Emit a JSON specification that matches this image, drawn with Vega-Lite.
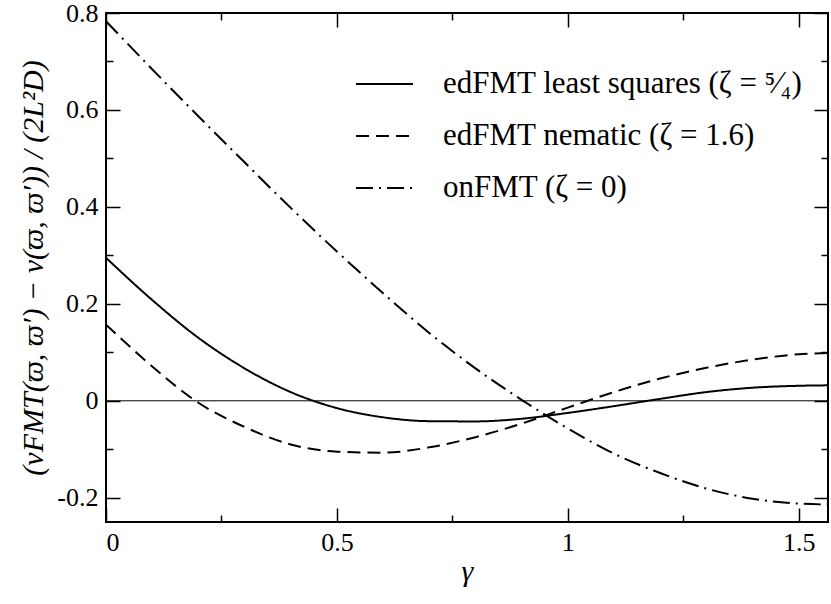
{
  "$schema": "https://vega.github.io/schema/vega-lite/v6.json",
  "autosize": {"type": "fit", "contains": "padding"},
  "width": 831,
  "height": 604,
  "padding": {"left": 18, "top": 0, "right": -4, "bottom": 18},
  "config": {
    "font": "Liberation Serif",
    "view": {"stroke": "black", "strokeWidth": 2}
  },
  "datasets": {
    "curves": [
      {"series": "edFMT least squares (ζ = ⁵⁄₄)", "g": 0, "v": 0.295},
      {"series": "edFMT least squares (ζ = ⁵⁄₄)", "g": 0.1, "v": 0.208},
      {"series": "edFMT least squares (ζ = ⁵⁄₄)", "g": 0.2, "v": 0.130},
      {"series": "edFMT least squares (ζ = ⁵⁄₄)", "g": 0.3, "v": 0.067},
      {"series": "edFMT least squares (ζ = ⁵⁄₄)", "g": 0.4, "v": 0.018},
      {"series": "edFMT least squares (ζ = ⁵⁄₄)", "g": 0.5, "v": -0.015},
      {"series": "edFMT least squares (ζ = ⁵⁄₄)", "g": 0.6, "v": -0.034},
      {"series": "edFMT least squares (ζ = ⁵⁄₄)", "g": 0.7, "v": -0.042},
      {"series": "edFMT least squares (ζ = ⁵⁄₄)", "g": 0.8, "v": -0.0425},
      {"series": "edFMT least squares (ζ = ⁵⁄₄)", "g": 0.9, "v": -0.037},
      {"series": "edFMT least squares (ζ = ⁵⁄₄)", "g": 1.0, "v": -0.025},
      {"series": "edFMT least squares (ζ = ⁵⁄₄)", "g": 1.1, "v": -0.011},
      {"series": "edFMT least squares (ζ = ⁵⁄₄)", "g": 1.2, "v": 0.004},
      {"series": "edFMT least squares (ζ = ⁵⁄₄)", "g": 1.3, "v": 0.018},
      {"series": "edFMT least squares (ζ = ⁵⁄₄)", "g": 1.4, "v": 0.027},
      {"series": "edFMT least squares (ζ = ⁵⁄₄)", "g": 1.5, "v": 0.031},
      {"series": "edFMT least squares (ζ = ⁵⁄₄)", "g": 1.5708, "v": 0.032},
      {"series": "edFMT nematic (ζ = 1.6)", "g": 0, "v": 0.157},
      {"series": "edFMT nematic (ζ = 1.6)", "g": 0.1, "v": 0.071},
      {"series": "edFMT nematic (ζ = 1.6)", "g": 0.2, "v": -0.004},
      {"series": "edFMT nematic (ζ = 1.6)", "g": 0.3, "v": -0.054},
      {"series": "edFMT nematic (ζ = 1.6)", "g": 0.4, "v": -0.090},
      {"series": "edFMT nematic (ζ = 1.6)", "g": 0.5, "v": -0.105},
      {"series": "edFMT nematic (ζ = 1.6)", "g": 0.6, "v": -0.107},
      {"series": "edFMT nematic (ζ = 1.6)", "g": 0.7, "v": -0.096},
      {"series": "edFMT nematic (ζ = 1.6)", "g": 0.8, "v": -0.075},
      {"series": "edFMT nematic (ζ = 1.6)", "g": 0.9, "v": -0.047},
      {"series": "edFMT nematic (ζ = 1.6)", "g": 1.0, "v": -0.014},
      {"series": "edFMT nematic (ζ = 1.6)", "g": 1.1, "v": 0.018},
      {"series": "edFMT nematic (ζ = 1.6)", "g": 1.2, "v": 0.046},
      {"series": "edFMT nematic (ζ = 1.6)", "g": 1.3, "v": 0.068},
      {"series": "edFMT nematic (ζ = 1.6)", "g": 1.4, "v": 0.085},
      {"series": "edFMT nematic (ζ = 1.6)", "g": 1.5, "v": 0.096},
      {"series": "edFMT nematic (ζ = 1.6)", "g": 1.5708, "v": 0.099},
      {"series": "onFMT (ζ = 0)", "g": 0, "v": 0.783},
      {"series": "onFMT (ζ = 0)", "g": 0.1, "v": 0.684},
      {"series": "onFMT (ζ = 0)", "g": 0.2, "v": 0.587},
      {"series": "onFMT (ζ = 0)", "g": 0.3, "v": 0.492},
      {"series": "onFMT (ζ = 0)", "g": 0.4, "v": 0.398},
      {"series": "onFMT (ζ = 0)", "g": 0.5, "v": 0.308},
      {"series": "onFMT (ζ = 0)", "g": 0.6, "v": 0.222},
      {"series": "onFMT (ζ = 0)", "g": 0.7, "v": 0.140},
      {"series": "onFMT (ζ = 0)", "g": 0.8, "v": 0.067},
      {"series": "onFMT (ζ = 0)", "g": 0.9, "v": 0.002},
      {"series": "onFMT (ζ = 0)", "g": 1.0, "v": -0.057},
      {"series": "onFMT (ζ = 0)", "g": 1.1, "v": -0.109},
      {"series": "onFMT (ζ = 0)", "g": 1.2, "v": -0.149},
      {"series": "onFMT (ζ = 0)", "g": 1.3, "v": -0.181},
      {"series": "onFMT (ζ = 0)", "g": 1.4, "v": -0.202},
      {"series": "onFMT (ζ = 0)", "g": 1.5, "v": -0.212},
      {"series": "onFMT (ζ = 0)", "g": 1.5708, "v": -0.214}
    ],
    "zero": [{"v": 0}]
  },
  "resolve": {"axis": {"x": "independent", "y": "independent"}},
  "layer": [
    {
      "data": {"name": "zero"},
      "mark": {"type": "rule", "stroke": "black", "strokeWidth": 1},
      "encoding": {
        "y": {"field": "v", "type": "quantitative", "scale": {"domain": [-0.25, 0.8], "nice": false, "zero": false}, "axis": null}
      }
    },
    {
      "data": {"name": "curves"},
      "mark": {"type": "line", "stroke": "black", "strokeWidth": 2, "interpolate": "monotone", "strokeCap": "butt", "clip": true},
      "encoding": {
        "x": {"field": "g", "type": "quantitative", "scale": {"domain": [0, 1.5635], "nice": false, "zero": false},
          "axis": {"orient": "bottom", "values": [0, 0.5, 1, 1.5], "domain": false, "grid": false, "ticks": true, "tickColor": "black", "tickOpacity": 1, "tickWidth": 1.5, "tickSize": -14, "labelFont": "Liberation Serif", "labelColor": "black", "labelFontSize": 26, "labelPadding": 21, "labelExpr": "replace(format(datum.value, '~g'), '\u2212', '-')", "title": "γ", "titleFont": "Liberation Serif", "titleColor": "black", "titleFontWeight": "normal", "titleFontSize": 30, "titleFontStyle": "italic", "titlePadding": 1}},
        "y": {"field": "v", "type": "quantitative", "scale": {"domain": [-0.25, 0.8], "nice": false, "zero": false},
          "axis": {"orient": "left", "values": [-0.2, 0, 0.2, 0.4, 0.6, 0.8], "domain": false, "grid": false, "ticks": true, "tickColor": "black", "tickOpacity": 1, "tickWidth": 1.5, "tickSize": -14, "labelFont": "Liberation Serif", "labelColor": "black", "labelFontSize": 26, "labelPadding": 22, "labelExpr": "replace(format(datum.value, '~g'), '\u2212', '-')", "title": "(vFMT(ϖ, ϖ′) − v(ϖ, ϖ′)) / (2L²D)", "titleFont": "Liberation Serif", "titleColor": "black", "titleFontWeight": "normal", "titleFontSize": 30, "titleFontStyle": "italic", "titlePadding": 8}},
        "strokeDash": {"field": "series", "type": "nominal",
          "scale": {"domain": ["edFMT least squares (ζ = ⁵⁄₄)", "edFMT nematic (ζ = 1.6)", "onFMT (ζ = 0)"], "range": [[1, 0], [13, 7], [17, 6, 2, 6]]},
          "legend": {"title": null, "orient": "none", "legendX": 249, "legendY": 58, "symbolType": "stroke", "symbolSize": 3249, "symbolStrokeWidth": 2, "symbolStrokeColor": "black", "labelFont": "Liberation Serif", "labelFontSize": 31, "labelColor": "black", "labelOffset": 29, "clipHeight": 26, "rowPadding": 21, "padding": 0, "labelLimit": 600}}
      }
    },
    {
      "data": {"name": "curves"},
      "mark": {"type": "point", "opacity": 0},
      "encoding": {
        "x": {"field": "g", "type": "quantitative", "scale": {"domain": [0, 1.5635], "nice": false, "zero": false},
          "axis": {"orient": "bottom", "values": [0.25, 0.75, 1.25], "domain": false, "grid": false, "ticks": true, "tickColor": "black", "tickWidth": 1.5, "offset": -7, "tickSize": 7, "labels": false, "title": null}},
        "y": {"field": "v", "type": "quantitative", "scale": {"domain": [-0.25, 0.8], "nice": false, "zero": false},
          "axis": {"orient": "left", "values": [-0.1, 0.1, 0.3, 0.5, 0.7], "domain": false, "grid": false, "ticks": true, "tickColor": "black", "tickWidth": 1.5, "offset": -7, "tickSize": 7, "labels": false, "title": null}}
      }
    },
    {
      "data": {"name": "curves"},
      "mark": {"type": "point", "opacity": 0},
      "encoding": {
        "x": {"field": "g", "type": "quantitative", "scale": {"domain": [0, 1.5635], "nice": false, "zero": false},
          "axis": {"orient": "top", "values": [0, 0.5, 1, 1.5], "domain": false, "grid": false, "ticks": true, "tickColor": "black", "tickWidth": 1.5, "tickSize": -14, "labels": false, "title": null}},
        "y": {"field": "v", "type": "quantitative", "scale": {"domain": [-0.25, 0.8], "nice": false, "zero": false},
          "axis": {"orient": "right", "values": [-0.2, 0, 0.2, 0.4, 0.6, 0.8], "domain": false, "grid": false, "ticks": true, "tickColor": "black", "tickWidth": 1.5, "tickSize": -14, "labels": false, "title": null}}
      }
    },
    {
      "data": {"name": "curves"},
      "mark": {"type": "point", "opacity": 0},
      "encoding": {
        "x": {"field": "g", "type": "quantitative", "scale": {"domain": [0, 1.5635], "nice": false, "zero": false},
          "axis": {"orient": "top", "values": [0.25, 0.75, 1.25], "domain": false, "grid": false, "ticks": true, "tickColor": "black", "tickWidth": 1.5, "offset": -7, "tickSize": 7, "labels": false, "title": null}},
        "y": {"field": "v", "type": "quantitative", "scale": {"domain": [-0.25, 0.8], "nice": false, "zero": false},
          "axis": {"orient": "right", "values": [-0.1, 0.1, 0.3, 0.5, 0.7], "domain": false, "grid": false, "ticks": true, "tickColor": "black", "tickWidth": 1.5, "offset": -7, "tickSize": 7, "labels": false, "title": null}}
      }
    }
  ]
}
